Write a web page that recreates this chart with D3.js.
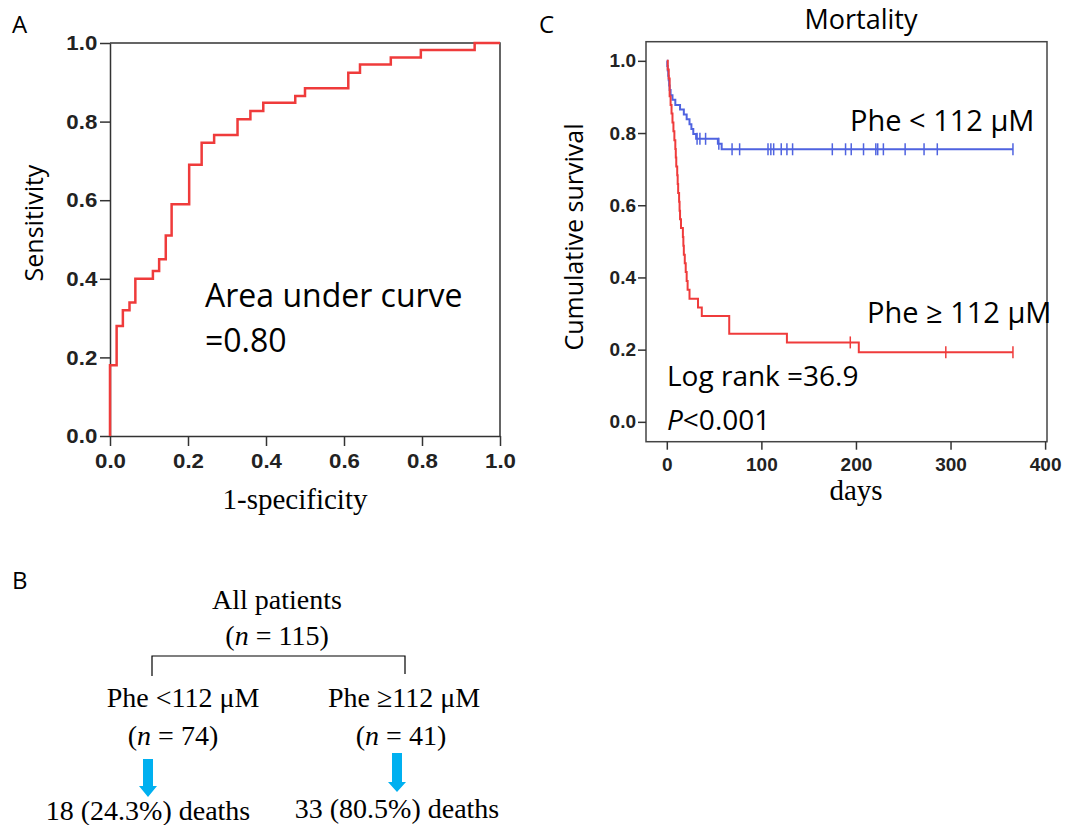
<!DOCTYPE html>
<meta charset="utf-8">
<style>
    body { margin: 0; background: #fff; }
    .sans { font-family: "Open Sans", sans-serif; }
    .serif { font-family: "Liberation Serif", "Times New Roman", serif; }
    .axis text { font-family: "Liberation Sans", Arial, sans-serif; font-weight: bold; fill: #222; }
    .axis line, .axis path { stroke: #333; stroke-width: 1.5; }
</style>
<svg id="fig" width="1067" height="825"></svg>
<script src="https://cdn.jsdelivr.net/npm/d3@7"></script>
<script>

// Panel A - ROC curve (step points: 1-specificity, sensitivity)
const rocFpr = [0, 0, 0.017, 0.033, 0.05, 0.065, 0.11, 0.126, 0.143, 0.158, 0.203, 0.235, 0.267, 0.327, 0.36, 0.393, 0.475, 0.5, 0.611, 0.641, 0.72, 0.797, 0.935, 1.0];
const rocTpr = [0, 0.18, 0.28, 0.32, 0.34, 0.40, 0.42, 0.45, 0.51, 0.59, 0.69, 0.746, 0.766, 0.806, 0.827, 0.848, 0.865, 0.885, 0.924, 0.945, 0.963, 0.982, 1.0, 1.0];
const rocTicks = [0, 0.2, 0.4, 0.6, 0.8, 1.0];

// Panel C - Kaplan-Meier, Phe < 112 uM
const lowDays = [0, 0.5, 1, 1.5, 2, 2.5, 3, 4, 6, 9, 14, 18, 21, 24, 26, 28, 31, 54, 58, 366];
const lowSurv = [1, 0.986, 0.973, 0.959, 0.946, 0.932, 0.919, 0.905, 0.892, 0.878, 0.865, 0.851, 0.838, 0.824, 0.811, 0.797, 0.784, 0.770, 0.755, 0.755];
const lowCensor = [32, 35, 41, 55, 69, 77, 107, 110, 113, 121, 127, 133, 175, 189, 195, 208, 221, 223, 229, 252, 272, 286, 366];

// Panel C - Kaplan-Meier, Phe >= 112 uM
const highDays = [0, 1, 2, 3, 4, 5, 6, 7, 8, 9, 9.5, 10, 11, 11.5, 12, 13, 13.5, 14, 15, 17, 17.5, 18, 19, 20, 21, 22, 24, 33, 37, 66, 127, 203, 366];
const highSurv = [1, 0.976, 0.951, 0.902, 0.878, 0.854, 0.829, 0.805, 0.780, 0.756, 0.732, 0.707, 0.683, 0.659, 0.634, 0.610, 0.585, 0.561, 0.537, 0.512, 0.488, 0.463, 0.439, 0.415, 0.390, 0.366, 0.341, 0.317, 0.293, 0.244, 0.220, 0.193, 0.193];
const highCensor = [194, 295, 366];

const kmXTicks = [0, 100, 200, 300, 400];
const kmYTicks = [0, 0.2, 0.4, 0.6, 0.8, 1.0];

// Panel B - patient split
const groupLabels = ["Phe <112 \u03bcM", "Phe \u2265112 \u03bcM"];
const groupN = [74, 41];
const groupDeaths = [18, 33];
const groupPct = ["24.3%", "80.5%"];
const totalN = 115;

const svg = d3.select("#fig");
const red = "#ef3b3b", blue = "#4f63e0";

// ---------- Panel A ----------
const ax = d3.scaleLinear().domain([0, 1]).range([110, 500]);
const ay = d3.scaleLinear().domain([0, 1]).range([436, 43]);
const gA = svg.append("g");

gA.append("path")
    .attr("d", `M${ax(0)},${ay(1)}H${ax(1)}V${ay(0)}`)
    .attr("fill", "none").attr("stroke", "#333").attr("stroke-width", 1.5);

gA.append("g").attr("class", "axis")
    .attr("transform", `translate(0,${ay(0)})`)
    .call(d3.axisBottom(ax).tickValues(rocTicks).tickFormat(d3.format(".1f")).tickSize(10).tickPadding(7).tickSizeOuter(0))
    .selectAll("text").style("font-size", "21px").attr("transform", "scale(1.06,1)");

gA.append("g").attr("class", "axis")
    .attr("transform", `translate(${ax(0)},0)`)
    .call(d3.axisLeft(ay).tickValues(rocTicks).tickFormat(d3.format(".1f")).tickSize(10).tickPadding(2).tickSizeOuter(0))
    .selectAll("text").style("font-size", "21px").attr("transform", "scale(1.06,1)");

const rocLine = d3.line().x(d => ax(d[0])).y(d => ay(d[1])).curve(d3.curveStepAfter);
gA.append("path")
    .datum(rocFpr.map((f, i) => [f, rocTpr[i]]))
    .attr("d", rocLine)
    .attr("fill", "none").attr("stroke", red).attr("stroke-width", 2.5);

gA.append("text").attr("class", "sans").attr("x", 205).attr("y", 307)
    .style("font-size", "32px").text("Area under curve");
gA.append("text").attr("class", "sans").attr("x", 205).attr("y", 352)
    .style("font-size", "32px").text("=0.80");

gA.append("text").attr("class", "sans")
    .attr("transform", "translate(43,223) rotate(-90)")
    .attr("text-anchor", "middle").style("font-size", "25px").text("Sensitivity");
gA.append("text").attr("class", "serif").attr("x", 295).attr("y", 509)
    .attr("text-anchor", "middle").style("font-size", "29px").text("1-specificity");
gA.append("text").attr("class", "sans").attr("x", 12).attr("y", 33)
    .style("font-size", "24px").text("A");

// ---------- Panel C ----------
const cx = d3.scaleLinear().domain([-22, 402]).range([646, 1047]);
const cy = d3.scaleLinear().domain([-0.055, 1.053]).range([441.7, 41.7]);
const gC = svg.append("g");

gC.append("rect")
    .attr("x", cx(-22)).attr("y", cy(1.053))
    .attr("width", cx(402) - cx(-22)).attr("height", cy(-0.055) - cy(1.053))
    .attr("fill", "none").attr("stroke", "#444").attr("stroke-width", 1.5);

gC.append("g").attr("class", "axis")
    .attr("transform", `translate(0,${cy(-0.055)})`)
    .call(d3.axisBottom(cx).tickValues(kmXTicks).tickSize(8).tickPadding(8).tickSizeOuter(0))
    .call(g => g.select(".domain").remove())
    .selectAll("text").style("font-size", "19px");

gC.append("g").attr("class", "axis")
    .attr("transform", `translate(${cx(-22)},0)`)
    .call(d3.axisLeft(cy).tickValues(kmYTicks).tickFormat(d3.format(".1f")).tickSize(8).tickPadding(2).tickSizeOuter(0))
    .call(g => g.select(".domain").remove())
    .selectAll("text").style("font-size", "19px");

const kmLine = d3.line().x(d => cx(d[0])).y(d => cy(d[1])).curve(d3.curveStepAfter);

function survAt(days, surv, t) {
    let s = surv[0];
    days.forEach((d, i) => { if (d <= t) s = surv[i]; });
    return s;
}

[[lowDays, lowSurv, lowCensor, blue], [highDays, highSurv, highCensor, red]].forEach(([days, surv, cens, col]) => {
    gC.append("path")
        .datum(days.map((d, i) => [d, surv[i]]))
        .attr("d", kmLine)
        .attr("fill", "none").attr("stroke", col).attr("stroke-width", 2);
    gC.selectAll(null)
        .data(cens)
        .enter()
        .append("line")
        .attr("x1", d => cx(d)).attr("x2", d => cx(d))
        .attr("y1", d => cy(survAt(days, surv, d)) - 6)
        .attr("y2", d => cy(survAt(days, surv, d)) + 6)
        .attr("stroke", col).attr("stroke-width", 1.5);
});

gC.append("text").attr("class", "sans").attr("x", 861).attr("y", 29)
    .attr("text-anchor", "middle").style("font-size", "27px").text("Mortality");
gC.append("text").attr("class", "sans").attr("x", 850).attr("y", 131)
    .style("font-size", "29px").text("Phe < 112 \u03bcM");
gC.append("text").attr("class", "sans").attr("x", 867).attr("y", 323)
    .style("font-size", "29px").text("Phe \u2265 112 \u03bcM");
gC.append("text").attr("class", "sans").attr("x", 667).attr("y", 386)
    .style("font-size", "28px").text("Log rank =36.9");
const pTxt = gC.append("text").attr("class", "sans").attr("x", 667).attr("y", 430)
    .style("font-size", "28px");
pTxt.append("tspan").style("font-style", "italic").text("P");
pTxt.append("tspan").text("<0.001");

gC.append("text").attr("class", "sans")
    .attr("transform", "translate(583,237) rotate(-90)")
    .attr("text-anchor", "middle").style("font-size", "25px").text("Cumulative survival");
gC.append("text").attr("class", "serif").attr("x", 856).attr("y", 500)
    .attr("text-anchor", "middle").style("font-size", "29px").text("days");
gC.append("text").attr("class", "sans").attr("x", 539).attr("y", 33)
    .style("font-size", "24px").text("C");

// ---------- Panel B ----------
const gB = svg.append("g");
const bx = d3.scalePoint().domain(groupLabels).range([152, 405]);
const fontB = "28px";

gB.append("text").attr("class", "sans").attr("x", 12).attr("y", 589)
    .style("font-size", "24px").text("B");

gB.append("text").attr("class", "serif").attr("x", 277).attr("y", 609)
    .attr("text-anchor", "middle").style("font-size", fontB).text("All patients");
const tot = gB.append("text").attr("class", "serif").attr("x", 277).attr("y", 645)
    .attr("text-anchor", "middle").style("font-size", fontB);
tot.append("tspan").text("(");
tot.append("tspan").style("font-style", "italic").text("n");
tot.append("tspan").text(" = " + totalN + ")");

gB.append("path")
    .attr("d", `M${bx(groupLabels[0])},676V656H${bx(groupLabels[1])}V674`)
    .attr("fill", "none").attr("stroke", "#000").attr("stroke-width", 1.2);

const labelX = [183, 404];
const arrowX = [148, 397];
const deathX = [148, 397];
groupLabels.forEach((lab, i) => {
    gB.append("text").attr("class", "serif").attr("x", labelX[i]).attr("y", 707)
        .attr("text-anchor", "middle").style("font-size", fontB).text(lab);
    const n = gB.append("text").attr("class", "serif").attr("x", labelX[i] - (i === 0 ? 10 : 3)).attr("y", 745)
        .attr("text-anchor", "middle").style("font-size", fontB);
    n.append("tspan").text("(");
    n.append("tspan").style("font-style", "italic").text("n");
    n.append("tspan").text(" = " + groupN[i] + ")");

    const a = arrowX[i], top = i === 0 ? 759 : 753, hb = i === 0 ? 786 : 782, tip = i === 0 ? 797 : 792;
    gB.append("path")
        .attr("d", `M${a - 5},${top}H${a + 5}V${hb}H${a + 9}L${a},${tip}L${a - 9},${hb}H${a - 5}Z`)
        .attr("fill", "#00b0f0");

    gB.append("text").attr("class", "serif").attr("x", deathX[i]).attr("y", i === 0 ? 820 : 818)
        .attr("text-anchor", "middle").style("font-size", fontB)
        .text(groupDeaths[i] + " (" + groupPct[i] + ") deaths");
});

</script>
